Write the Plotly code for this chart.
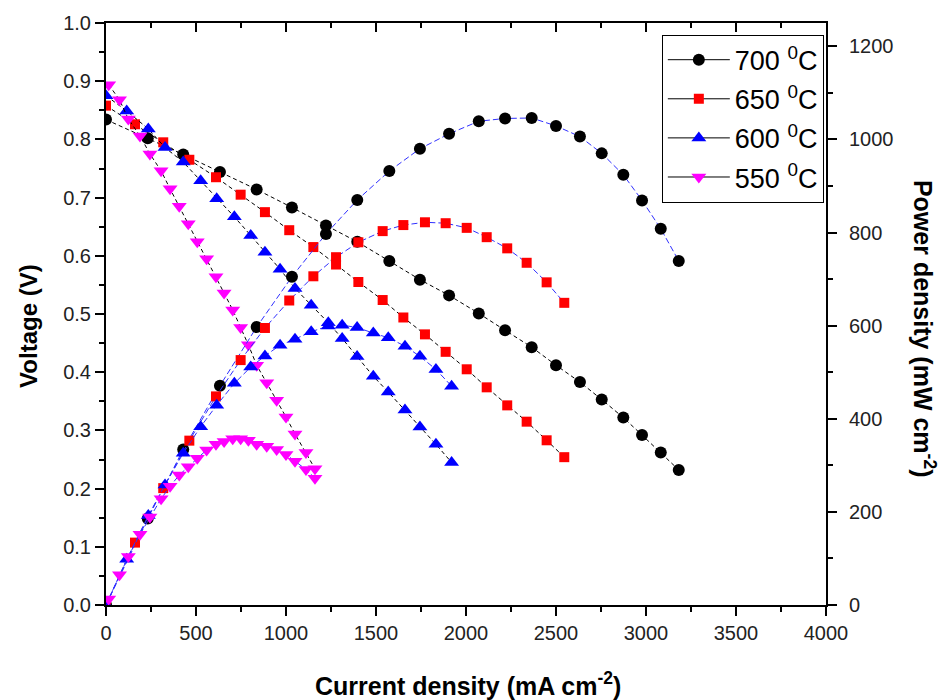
import plotly.graph_objects as go

# ---------------- data ----------------
labels = ["700 <sup>0</sup>C", "650 <sup>0</sup>C", "600 <sup>0</sup>C", "550 <sup>0</sup>C"]

i_700 = [0, 232, 429, 633, 837, 1033, 1222, 1396, 1574, 1744, 1906, 2071, 2217, 2365,
         2500, 2633, 2754, 2874, 2978, 3082, 3182]
v_700 = [0.834, 0.802, 0.774, 0.744, 0.714, 0.683, 0.652, 0.624, 0.591, 0.559, 0.532,
         0.501, 0.472, 0.443, 0.412, 0.383, 0.353, 0.322, 0.292, 0.262, 0.232]
p_700 = [0, 186, 334, 471, 597, 705, 797, 870, 932, 980, 1012, 1039, 1045, 1046,
         1029, 1006, 970, 924, 869, 808, 739]

i_650 = [0, 161, 318, 463, 611, 748, 883, 1018, 1152, 1278, 1402, 1537, 1652, 1772,
         1887, 2004, 2115, 2229, 2337, 2448, 2546]
v_650 = [0.858, 0.826, 0.795, 0.765, 0.735, 0.705, 0.675, 0.644, 0.615, 0.585, 0.555,
         0.524, 0.494, 0.465, 0.435, 0.405, 0.374, 0.343, 0.315, 0.283, 0.254]
p_650 = [0, 134, 251, 353, 448, 526, 595, 654, 706, 747, 779, 803, 816, 822, 820,
         810, 790, 766, 735, 693, 649]

i_600 = [0, 115, 235, 328, 429, 526, 615, 713, 804, 883, 967, 1050, 1140, 1235, 1312,
         1395, 1485, 1568, 1661, 1744, 1833, 1920]
v_600 = [0.875, 0.849, 0.818, 0.786, 0.761, 0.729, 0.698, 0.667, 0.635, 0.606, 0.577,
         0.544, 0.515, 0.485, 0.458, 0.427, 0.393, 0.366, 0.335, 0.306, 0.276, 0.245]
p_600 = [0, 98, 192, 258, 326, 383, 429, 476, 511, 535, 558, 571, 587, 599, 601, 596,
         584, 574, 556, 534, 506, 470]

i_550 = [15, 75, 124, 189, 244, 306, 356, 407, 457, 507, 559, 611, 656, 704, 748, 791,
         837, 893, 948, 1000, 1050, 1111, 1161]
v_550 = [0.894, 0.868, 0.835, 0.806, 0.775, 0.746, 0.715, 0.685, 0.655, 0.624, 0.595,
         0.564, 0.536, 0.507, 0.477, 0.447, 0.412, 0.382, 0.352, 0.323, 0.294, 0.262, 0.234]
p_550 = [13, 65, 104, 152, 189, 228, 255, 279, 297, 315, 333, 345, 351, 357, 357, 354,
         345, 341, 334, 323, 309, 291, 272]

currents = [i_700, i_650, i_600, i_550]
voltages = [v_700, v_650, v_600, v_550]
powers = [p_700, p_650, p_600, p_550]

colors = ["#000000", "#ff0000", "#0000ff", "#ff00ff"]
symbols = ["circle", "square", "triangle-up", "triangle-down"]
sizes = [12, 10, 13, 13]

x_ticks = [0, 500, 1000, 1500, 2000, 2500, 3000, 3500, 4000]
v_ticks = [0.0, 0.1, 0.2, 0.3, 0.4, 0.5, 0.6, 0.7, 0.8, 0.9, 1.0]
p_ticks = [0, 200, 400, 600, 800, 1000, 1200]

FONT = "Liberation Sans, Arial, sans-serif"

fig = go.Figure()

# power density curves (right axis, blue dashed connecting lines)
for k in range(4):
    fig.add_trace(go.Scatter(
        x=currents[k], y=powers[k], yaxis="y2", mode="lines+markers",
        line=dict(color="#3030ff", width=1, dash="6px,3px"),
        marker=dict(symbol=symbols[k], color=colors[k], size=sizes[k], line=dict(width=0)),
        showlegend=False, hoverinfo="skip"))

# voltage curves (left axis, black dashed connecting lines)
for k in range(4):
    fig.add_trace(go.Scatter(
        x=currents[k], y=voltages[k], mode="lines+markers",
        line=dict(color="#000000", width=1, dash="4px,3px"),
        marker=dict(symbol=symbols[k], color=colors[k], size=sizes[k], line=dict(width=0)),
        showlegend=False, hoverinfo="skip"))

# legend entries
for k in range(4):
    fig.add_trace(go.Scatter(
        x=[None], y=[None], mode="lines+markers", name=labels[k],
        legendgroup="g%d" % k,
        line=dict(color="#000000", width=1),
        marker=dict(symbol=symbols[k], color=colors[k], size=sizes[k], line=dict(width=0))))

# helper trace for top mirrored axis
fig.add_trace(go.Scatter(x=[None], y=[None], xaxis="x2", showlegend=False, hoverinfo="skip"))

axis_common = dict(showline=True, linecolor="black", linewidth=2, showgrid=False,
                   zeroline=False, tickcolor="black", tickwidth=1.5,
                   tickfont=dict(family=FONT, size=20, color="#222222"))

fig.update_layout(
    width=943, height=700,
    margin=dict(l=106, r=117, t=18, b=95),
    paper_bgcolor="white", plot_bgcolor="white",
    xaxis=dict(range=[0, 4000], tickvals=x_ticks, ticks="outside", ticklen=9,
               minor=dict(dtick=250, ticks="outside", ticklen=5, tickcolor="black", tickwidth=1.5),
               **axis_common),
    xaxis2=dict(range=[0, 4000], overlaying="x", side="top", tickvals=x_ticks,
                showticklabels=False, ticks="inside", ticklen=9,
                minor=dict(dtick=250, ticks="inside", ticklen=5, tickcolor="black", tickwidth=1.5),
                **axis_common),
    yaxis=dict(range=[0, 1.0], tickvals=v_ticks, tickformat=".1f", ticks="outside", ticklen=9,
               minor=dict(dtick=0.05, ticks="outside", ticklen=5, tickcolor="black", tickwidth=1.5),
               **axis_common),
    yaxis2=dict(range=[0, 1250], overlaying="y", side="right", tickvals=p_ticks,
                ticks="outside", ticklen=9, ticklabelstandoff=8,
                minor=dict(dtick=100, ticks="outside", ticklen=5, tickcolor="black", tickwidth=1.5),
                **axis_common),
    legend=dict(x=0.772, y=0.98, xanchor="left", yanchor="top",
                bordercolor="black", borderwidth=1, bgcolor="white",
                font=dict(family=FONT, size=27, color="black"),
                itemwidth=62, tracegroupgap=1),
    annotations=[
        dict(text="<b>Voltage (V)</b>", xref="paper", yref="paper", x=-0.108, y=0.48,
             xanchor="center", yanchor="middle",
             textangle=-90, showarrow=False, font=dict(family=FONT, size=24, color="black")),
        dict(text="<b>Power density (mW cm<sup>-2</sup>)</b>", xref="paper", yref="paper",
             x=1.137, y=0.475, xanchor="center", yanchor="middle", textangle=90, showarrow=False,
             font=dict(family=FONT, size=25, color="black")),
        dict(text="<b>Current density (mA cm<sup>-2</sup>)</b>", xref="paper", yref="paper",
             x=0.503, y=-0.135, xanchor="center", yanchor="middle", showarrow=False,
             font=dict(family=FONT, size=25, color="black")),
    ],
)

fig.write_html("out.html")
